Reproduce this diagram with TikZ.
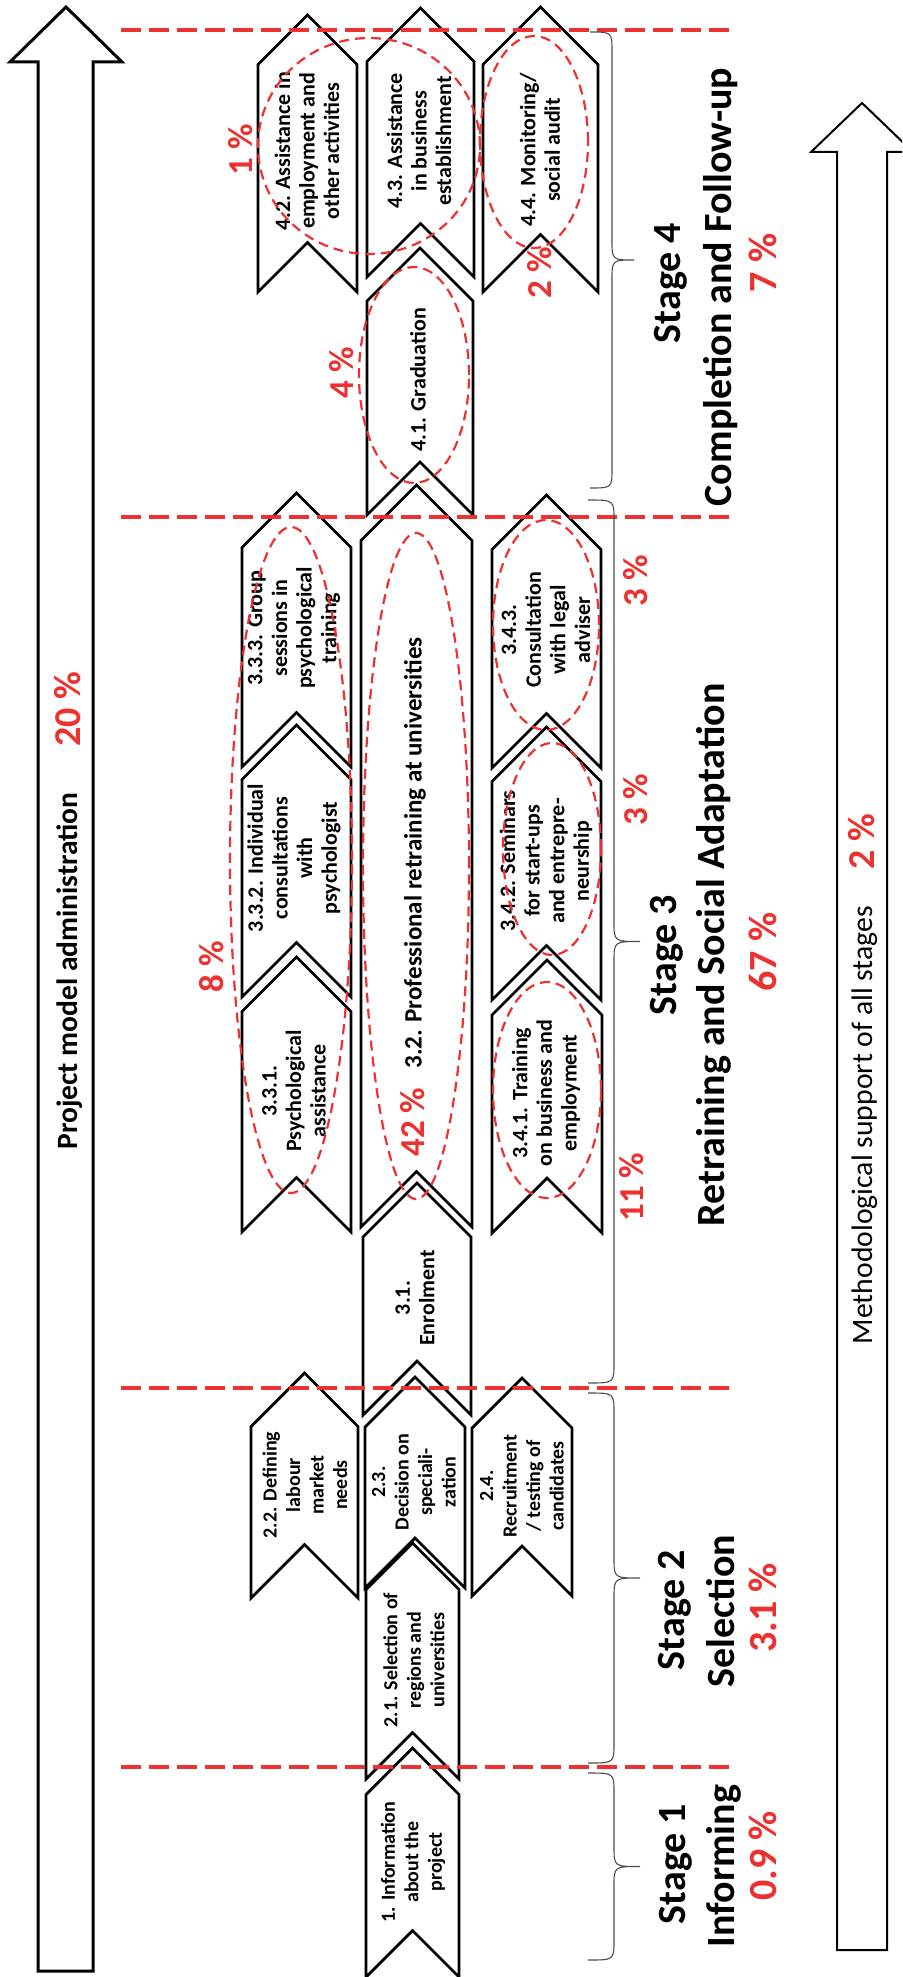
\documentclass[tikz,border=0pt]{standalone}
\usepackage{fontspec}
\setmainfont{Carlito}
\definecolor{pctred}{RGB}{236,50,48}
\newcommand{\chevshape}[4]{%
  \pgfmathsetmacro\chcx{(#1+#2)/2}%
  \pgfmathsetmacro\chd{(#2-#1)/2}%
  \draw[chevline] (#1,#3+\chd) -- (\chcx,#3) -- (#2,#3+\chd) -- (#2,#4) -- (\chcx,#4-\chd) -- (#1,#4) -- cycle;}
\newcommand{\stagebrace}[4]{%
  \pgfmathsetmacro\sbm{(#2+#3)/2}%
  \pgfmathsetmacro\sbs{#1+#4}%
  \pgfmathsetmacro\sbt{#1+2*#4}%
  \draw[bracel] (#1,#2) .. controls (\sbs,#2) .. (\sbs,#2+20) -- (\sbs,\sbm-20) .. controls (\sbs,\sbm) .. (\sbt,\sbm) .. controls (\sbs,\sbm) .. (\sbs,\sbm+20) -- (\sbs,#3-20) .. controls (\sbs,#3) .. (#1,#3);}
\begin{document}
\begin{tikzpicture}[x=1pt,y=-1pt,
  chevline/.style={line width=2.8pt, line join=miter, draw=black},
  bigarrow/.style={line width=3pt, draw=black, line join=miter},
  sepline/.style={draw=pctred, line width=3.5pt, dash pattern=on 20pt off 8pt},
  ellip/.style={draw=pctred, line width=2.2pt, dash pattern=on 10pt off 6pt},
  bracel/.style={draw=black!70, line width=1.1pt},
  lbl/.style={rotate=90, align=center, inner sep=0pt, font=\bfseries\fontsize{22}{24.6}\selectfont},
  lbls/.style={rotate=90, align=center, inner sep=0pt, font=\bfseries\fontsize{20}{23.5}\selectfont},
  pct/.style={rotate=90, inner sep=0pt, text=pctred, font=\bfseries\fontsize{35}{40}\selectfont},
  stg/.style={rotate=90, inner sep=0pt, font=\bfseries\fontsize{40}{46}\selectfont},
  stgpct/.style={stg, text=pctred},
]
\clip (0,0) rectangle (902,1977);
\fill[white] (0,0) rectangle (902,1977);

% big arrows
\draw[bigarrow] (38,1971) -- (38,62) -- (10,62) -- (66,7) -- (122,62) -- (93,62) -- (93,1971) -- cycle;
\draw[bigarrow, line width=2pt] (837,1950) -- (837,152) -- (811,152) -- (862,103) -- (913,152) -- (887,152) -- (887,1950) -- cycle;
\node[rotate=90, inner sep=0pt, font=\bfseries\fontsize{29.5}{34}\selectfont] (adm) at (70,971) {Project model administration};
\node[pct, font=\bfseries\fontsize{38}{44}\selectfont] (admp) at (68,709) {20 \%};
\node[rotate=90, inner sep=0pt, font=\fontsize{29.7}{35}\selectfont] (meth) at (865,1125) {Methodological support of all stages};
\node[pct, font=\bfseries\fontsize{38}{44}\selectfont] (methp) at (862,842) {2 \%};

% chevrons
\chevshape{258}{357}{15}{292}
\chevshape{367}{474}{8}{277}
\chevshape{483}{598}{7}{292}
\chevshape{367}{473}{248}{515}
\chevshape{242}{351}{493}{767}
\chevshape{361}{472}{485}{1227}
\chevshape{492}{601}{495}{768}
\chevshape{242}{351}{725}{997}
\chevshape{492}{601}{727}{1000}
\chevshape{242}{351}{957}{1232}
\chevshape{492}{602}{960}{1233}
\chevshape{363}{471}{1183}{1415}
\chevshape{251}{358}{1373}{1598}
\chevshape{365}{465}{1377}{1588}
\chevshape{472}{572}{1378}{1596}
\chevshape{366}{459}{1543}{1779}
\chevshape{366}{459}{1748}{1977}

% chevron labels
\node[lbls] (t1) at (413,1862) {1. Information\\about the\\project};
\node[lbls] (t21) at (414,1660) {2.1. Selection of\\regions and\\universities};
\node[lbls] (t22) at (305,1485) {2.2. Defining\\labour\\market\\needs};
\node[lbls] (t23) at (414,1482) {2.3.\\Decision on\\speciali-\\zation};
\node[lbls] (t24) at (522,1486) {2.4.\\Recruitment\\/ testing of\\candidates};
\node[lbl] (t31) at (415,1298) {3.1.\\Enrolment};
\node[lbl, font=\bfseries\fontsize{25}{30}\selectfont] (t32) at (415,853) {3.2. Professional retraining at universities};
\node[lbl] (t331) at (294,1091) {3.3.1.\\Psychological\\assistance};
\node[lbl] (t332) at (294,858) {3.3.2. Individual\\consultations\\with\\psychologist};
\node[lbl] (t333) at (294,628) {3.3.3. Group\\sessions in\\psychological\\training};
\node[lbl] (t341) at (546,1093) {3.4.1. Training\\on business and\\employment};
\node[lbl] (t342) at (546,861) {3.4.2. Seminars\\for start-ups\\and entrepre-\\neurship};
\node[lbl] (t343) at (546,630) {3.4.3.\\Consultation\\with legal\\adviser};
\node[lbl] (t41) at (418,380) {4.1. Graduation};
\node[lbl] (t42) at (307,151) {4.2. Assistance in\\employment and\\other activities};
\node[lbl] (t43) at (419,141) {4.3. Assistance\\in business\\establishment};
\node[lbl] (t44) at (540,150) {4.4. Monitoring/\\social audit};

% dashed ellipses
\draw[ellip] (369,146) ellipse [x radius=111pt, y radius=108pt];
\draw[ellip] (534,142) ellipse [x radius=54pt, y radius=106pt];
\draw[ellip] (414,375) ellipse [x radius=55pt, y radius=108pt];
\draw[ellip] (291,860) ellipse [x radius=61pt, y radius=333pt];
\draw[ellip] (416,866) ellipse [x radius=53pt, y radius=333pt];
\draw[ellip] (546,625) ellipse [x radius=53pt, y radius=105pt];
\draw[ellip] (552,849) ellipse [x radius=49pt, y radius=106pt];
\draw[ellip] (547,1090) ellipse [x radius=54pt, y radius=108pt];

% percentages
\node[pct] (p1) at (241,150) {1 \%};
\node[pct] (p2) at (540,273) {2 \%};
\node[pct] (p4) at (342,373) {4 \%};
\node[pct] (p8) at (212,967) {8 \%};
\node[pct] (p42) at (413,1122) {42 \%};
\node[pct] (p3a) at (636,581) {3 \%};
\node[pct] (p3b) at (636,800) {3 \%};
\node[pct] (p11) at (632,1187) {11 \%};

% stage separators
\draw[sepline] (121,30) -- (733,30);
\draw[sepline] (121,517) -- (733,517);
\draw[sepline] (121,1388) -- (733,1388);
\draw[sepline] (121,1767) -- (733,1767);

% braces
\stagebrace{590}{32}{488}{22}
\stagebrace{588}{500}{1383}{26}
\stagebrace{588}{1393}{1763}{26}
\stagebrace{588}{1773}{1960}{26}

% stage labels
\node[stg] (s1a) at (676,1864) {Stage 1};
\node[stg] (s1b) at (723.5,1866) {Informing};
\node[stgpct] (s1c) at (763,1856) {0.9 \%};
\node[stg] (s2a) at (675,1610) {Stage 2};
\node[stg] (s2b) at (721,1611) {Selection};
\node[stgpct] (s2c) at (763,1608) {3.1 \%};
\node[stg] (s3a) at (667,955) {Stage 3};
\node[stg] (s3b) at (714,955) {Retraining and Social Adaptation};
\node[stgpct] (s3c) at (763,952) {67 \%};
\node[stg] (s4a) at (671,283) {Stage 4};
\node[stg] (s4b) at (721,287) {Completion and Follow-up};
\node[stgpct] (s4c) at (763,263) {7 \%};
\end{tikzpicture}
\end{document}
